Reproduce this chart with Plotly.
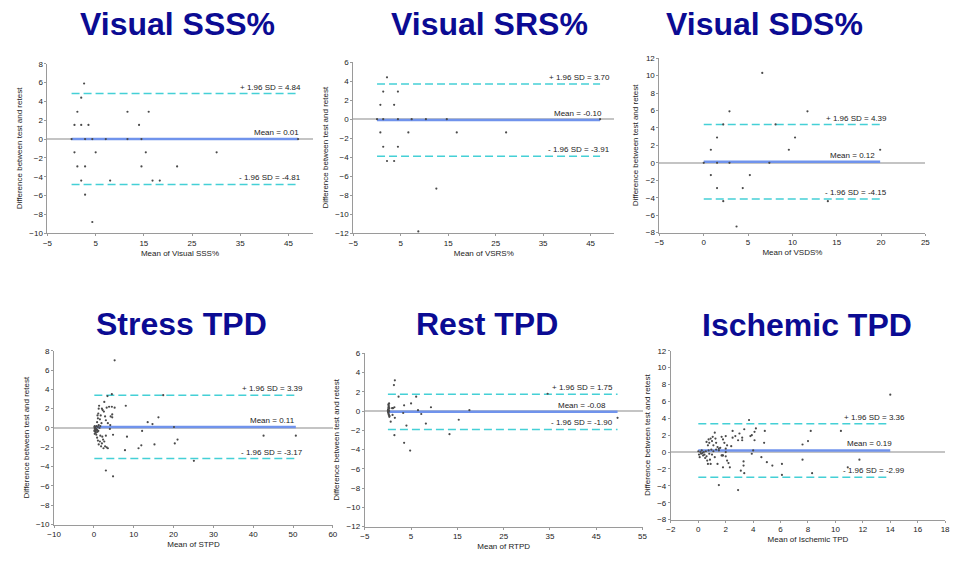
import plotly.graph_objects as go

# ---------------- DATA ----------------
titles = ["Visual SSS%", "Visual SRS%", "Visual SDS%", "Stress TPD", "Rest TPD", "Ischemic TPD"]
x_titles = ["Mean of Visual SSS%", "Mean of VSRS%", "Mean of VSDS%", "Mean of STPD", "Mean of RTPD", "Mean of Ischemic TPD"]
y_title = "Difference between test and retest"

means = [0.01, -0.10, 0.12, 0.11, -0.08, 0.19]
upper = [4.84, 3.70, 4.39, 3.39, 1.75, 3.36]
lower = [-4.81, -3.91, -4.15, -3.17, -1.90, -2.99]

sss_x = [2.6, 2.0, 1.2, 0.6, 2.0, 3.5, 0.0, 2.8, 4.3, 7.1, 11.6, 14.5, 47.0, 0.6, 5.0, 1.2, 2.8, 2.0, 8.0, 2.8, 4.3,
         11.6, 16.0, 14.0, 15.4, 14.5, 16.8, 18.3, 21.9, 30.1]
sss_y = [5.9, 4.4, 2.9, 1.5, 1.5, 1.5, 0.0, 0.0, 0.0, 0.0, 0.0, 0.0, 0.0, -1.4, -1.4, -2.9, -2.9, -4.4, -4.4, -5.9, -8.8,
         2.9, 2.9, 1.5, -1.4, -2.9, -4.4, -4.4, -2.9, -1.4]

srs_x = [2.1, 1.3, 4.4, 0.7, 3.6, 0.0, 1.3, 4.4, 7.3, 10.3, 14.7, 47.0, 0.7, 6.6, 16.8, 27.2, 1.3, 4.4, 2.1, 3.6, 12.5, 8.7]
srs_y = [4.4, 2.9, 2.9, 1.5, 1.5, 0.0, 0.0, 0.0, 0.0, 0.0, 0.0, 0.0, -1.4, -1.4, -1.4, -1.4, -2.9, -2.9, -4.4, -4.4, -7.3, -11.8]

sds_x = [6.6, 2.9, 11.7, 2.2, 8.1, 1.5, 10.3, 0.8, 9.6, 19.9, 0.0, 1.5, 2.9, 7.4, 0.8, 5.2, 1.5, 4.4, 2.2, 14.0, 3.7]
sds_y = [10.3, 5.9, 5.9, 4.4, 4.4, 2.9, 2.9, 1.5, 1.5, 1.5, 0.0, 0.0, 0.0, 0.0, -1.4, -1.4, -2.9, -2.9, -4.4, -4.4, -7.3]

stpd_x = [0.1, 0.2, 0.3, 0.4, 0.5, 0.3, 0.6, 0.2, 0.5, 0.7, 0.8, 1.0, 0.9, 0.4, 0.6, 1.2, 1.4, 1.1, 0.1, 0.2,
          0.8, 1.0, 0.9, 1.1, 1.2, 1.3, 1.5, 1.7, 1.9, 2.2, 2.5, 2.6, 2.0, 3.0, 3.2, 3.4, 3.8, 4.2, 4.5, 4.6,
          4.6, 4.5, 5.2, 4.1, 4.0, 5.2, 2.8, 3.5, 1.6,
          0.8, 1.0, 1.2, 1.5, 1.8, 2.0, 2.3, 2.6, 2.8, 3.0, 3.2, 3.5, 2.4, 4.8, 3.0, 4.8, 1.6, 2.1,
          8.0, 7.8, 8.3, 11.2, 11.9, 12.1, 13.5, 14.7, 15.2, 16.2, 17.4, 20.1, 20.3, 21.0, 25.1, 42.6, 50.7]
stpd_y = [0.1, -0.1, 0.0, -0.2, -0.3, -0.4, -0.1, -0.6, -0.5, 0.2, -0.2, 0.1, -0.4, 0.1, -0.7, 0.3, 0.0, -0.3, -0.3, 0.2,
          0.6, 1.0, 1.3, 1.5, 2.0, 2.3, 0.9, 1.3, 0.5, 1.85, 1.7, 2.7, 2.0, 0.8, 2.1, 3.3, 2.2, 1.2, 2.2, 1.4,
          1.1, 3.5, 2.1, 0.3, -0.1, 7.0, 1.2, 0.5, 0.2,
          -1.0, -1.3, -1.7, -1.4, -1.9, -1.6, -1.2, -1.4, -1.9, -0.8, -2.0, -2.1, -2.1, -0.7, -4.4, -5.0, -0.8, -0.9,
          2.3, -2.3, -0.9, -2.1, -1.8, -0.3, 0.6, 0.4, -1.7, 1.1, 3.4, 0.1, -1.6, -1.2, -3.4, -0.8, -0.8]

rtpd_x = [0.0, 0.05, 0.1, 0.1, 0.15, 0.2, 0.2, 0.25, 0.3, 0.3, 0.05, 0.1, 0.15, 0.2, 0.35, 0.0, 0.1, 0.25,
          1.5, 1.3, 2.3, 6.1, 34.5, 5.0, 3.5, 9.3, 1.4, 0.9, 1.1, 6.5, 17.6, 3.3, 7.2, 1.0, 1.5, 49.6, 0.6,
          15.3, 8.2, 4.0, 1.4, 13.3, 3.5, 4.8]
rtpd_y = [0.0, 0.2, 0.4, -0.2, 0.6, -0.4, 0.1, 0.8, -0.6, 0.3, -0.1, 0.7, -0.3, 0.5, -0.5, 0.1, -0.1, 0.0,
          3.2, 2.7, 1.5, 1.5, 1.8, 0.8, 0.6, 0.4, 0.4, 0.3, 0.3, 0.1, 0.1, -0.2, -0.3, -0.4, -0.7, -0.7, -1.1,
          -0.9, -1.3, -1.5, -2.5, -2.4, -3.3, -4.1]

itpd_x = [0.0, 0.05, 0.1, 0.15, 0.2, 0.25, 0.3, 0.35, 0.4, 0.45, 0.5, 0.55, 0.6, 0.65, 0.7, 0.75, 0.8, 0.85, 0.9, 0.95,
          1.0, 1.1, 1.2, 1.3, 1.4, 1.5, 1.6, 1.7, 1.8, 1.75,
          0.6, 0.7, 0.75, 0.8, 0.9, 1.0, 1.05, 1.1, 1.2, 1.25, 1.3, 1.4, 1.5, 1.7, 1.8, 1.9, 2.0, 2.0, 2.1, 2.4,
          2.5, 2.5, 2.7, 2.9, 3.0, 3.2, 3.2, 3.35, 3.7, 3.8, 3.9, 4.1, 4.2, 4.1, 4.0, 3.9, 4.85, 4.8,
          2.0, 2.0, 2.1, 2.2, 2.3, 1.8, 3.3, 3.3, 3.1, 3.35, 1.5, 2.9, 4.6, 5.0, 5.4, 6.1, 6.1,
          7.6, 8.0, 8.2, 7.6, 8.3, 10.4, 10.9, 11.75, 14.0]
itpd_y = [0.1, -0.3, -0.6, 0.0, -0.2, 0.2, -0.1, -0.4, 0.0, -0.3, -0.7, 0.1, -0.5, -1.0, -1.4, 0.2, -0.2, -0.9, -1.4, 0.3,
          -0.3, 0.1, -0.6, 0.3, -1.4, 0.2, 0.5, -0.4, -1.8, -0.4,
          1.2, 0.8, 1.5, 1.1, 1.6, 1.3, 1.8, 0.8, 2.3, 1.6, 1.1, 0.6, 0.4, 1.8, 1.5, 1.1, 1.9, 0.4, 0.8, 0.7,
          2.5, 1.7, 1.9, 1.4, 2.2, 1.7, 1.4, 2.7, 3.8, 1.9, 2.0, 2.4, 2.8, 1.4, 0.2, -0.2, 2.5, 1.1,
          0.0, -0.5, -1.0, -1.3, -1.8, -0.4, -1.1, -1.6, -2.2, -2.5, -3.9, -4.5, -0.6, -1.2, -1.6, -1.4, -2.7,
          0.9, 1.3, 2.5, -0.9, -2.5, 2.5, -1.8, -0.9, 6.8]

xs = [sss_x, srs_x, sds_x, stpd_x, rtpd_x, itpd_x]
ys = [sss_y, srs_y, sds_y, stpd_y, rtpd_y, itpd_y]

x_ranges = [[-5, 50], [-5, 50], [-5, 25], [-10, 60], [-5, 55], [-2, 18]]
x_dticks = [10, 10, 5, 10, 10, 2]
y_ranges = [[-10, 8], [-12, 6], [-8, 12], [-10, 8], [-12, 6], [-8, 12]]

# ---------------- LAYOUT CONFIG ----------------
W, H = 959, 566
# plot areas in pixels: (left, right, top, bottom)
boxes = [(41, 309.4, 60.7, 233), (350.7, 615, 59, 233), (660.7, 930, 55, 232.3),
         (47.7, 330, 352.3, 529), (362.3, 643.6, 355, 531), (672.3, 950, 352.3, 524)]
title_pos = [(173, 20), (489, 20), (767, 20), (177, 325.5), (486, 325.5), (810, 326)]
label_x_sd = [48.1, 49.6, 20.9, 53.0, 49.1, 15.2]
label_x_mean = [47.7, 47.9, 19.6, 50.9, 47.5, 14.3]

TXT = "#222222"
AX = "#9a9a9a"
FONT = "Arial, Liberation Sans, sans-serif"

fig = go.Figure()
layout = dict(width=W, height=H, margin=dict(l=0, r=0, t=0, b=0),
              paper_bgcolor="white", plot_bgcolor="white", showlegend=False,
              font=dict(family=FONT, size=8, color=TXT))
annotations = []

for i in range(6):
    n = "" if i == 0 else str(i + 1)
    xa, ya = "x" + n, "y" + n
    l, r, t, b = boxes[i]
    layout["xaxis" + n] = dict(domain=[l / W, r / W], anchor=ya, range=x_ranges[i],
                               tick0=x_ranges[i][0], dtick=x_dticks[i], showgrid=False, zeroline=False,
                               showline=True, linecolor=AX, linewidth=1, ticks="outside", ticklen=2,
                               tickcolor=AX, tickfont=dict(size=8, color=TXT),
                               title=dict(text=x_titles[i], font=dict(size=8, color=TXT), standoff=3))
    layout["yaxis" + n] = dict(domain=[1 - b / H, 1 - t / H], anchor=xa, range=y_ranges[i], dtick=2,
                               showgrid=False, zeroline=True, zerolinecolor="#c4c4c4", zerolinewidth=1.5,
                               showline=True, linecolor=AX, linewidth=1, ticks="outside", ticklen=2,
                               tickcolor=AX, tickfont=dict(size=8, color=TXT),
                               title=dict(text=y_title, font=dict(size=8, color=TXT), standoff=5))
    x0, x1 = min(xs[i]), max(xs[i])
    for val, col, dash, wdt in [(upper[i], "#45d0d6", "8px,4px", 1.5),
                                (lower[i], "#45d0d6", "8px,4px", 1.5),
                                (means[i], "#7093ec", "solid", 2.5)]:
        fig.add_trace(go.Scatter(x=[x0, x1], y=[val, val], mode="lines", xaxis=xa, yaxis=ya,
                                 line=dict(color=col, dash=dash, width=wdt), hoverinfo="skip"))
    fig.add_trace(go.Scatter(x=xs[i], y=ys[i], mode="markers", xaxis=xa, yaxis=ya,
                             marker=dict(size=2.2, color="#4a4a4a")))
    for val, txt, lx in [(upper[i], "+ 1.96 SD = %.2f" % upper[i], label_x_sd[i]),
                         (means[i], "Mean = %.2f" % means[i], label_x_mean[i]),
                         (lower[i], "- 1.96 SD = %.2f" % lower[i], label_x_sd[i])]:
        annotations.append(dict(x=lx, y=val, xref=xa, yref=ya, text=txt, showarrow=False,
                                xanchor="right", yanchor="bottom", yshift=0,
                                font=dict(size=8, color=TXT, family=FONT)))
    tx, ty = title_pos[i]
    annotations.append(dict(x=tx / W, y=1 - ty / H, xref="paper", yref="paper", text="<b>%s</b>" % titles[i],
                            showarrow=False, xanchor="center", yanchor="middle",
                            font=dict(size=32, color="#0b0b93", family=FONT)))

layout["annotations"] = annotations
fig.update_layout(**layout)
fig.write_html("out.html", config={"displayModeBar": False},
               post_script="document.body.style.margin='0';")
